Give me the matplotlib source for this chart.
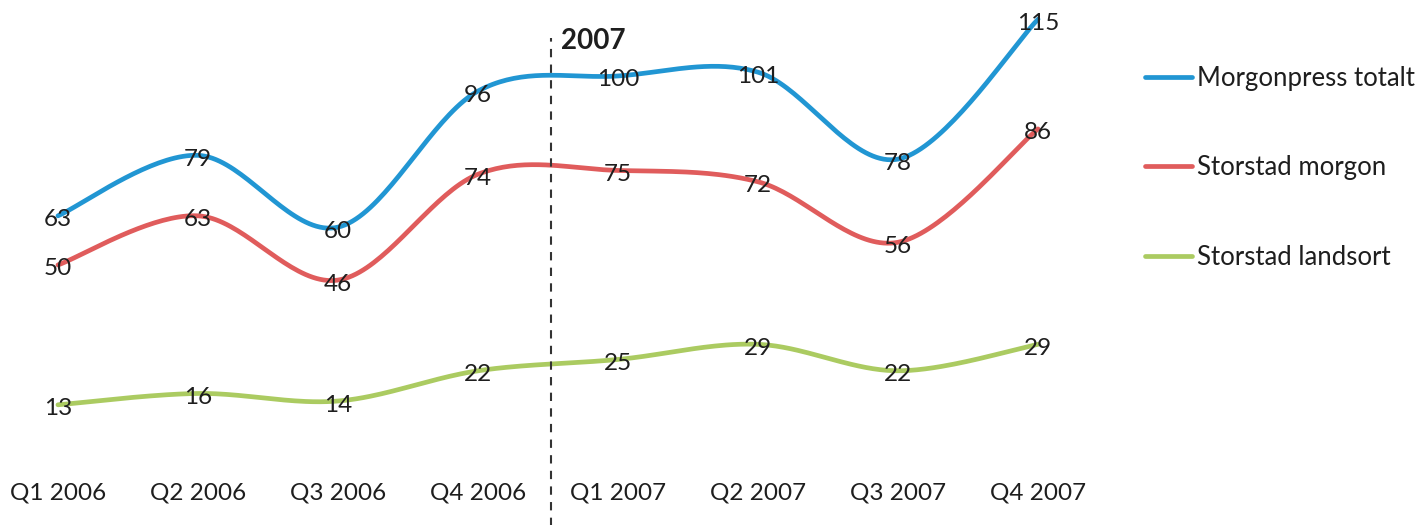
import numpy as np
import matplotlib
matplotlib.use("Agg")
from matplotlib import pyplot as plt

quarters = ["Q1 2006", "Q2 2006", "Q3 2006", "Q4 2006",
            "Q1 2007", "Q2 2007", "Q3 2007", "Q4 2007"]
series_names = ["Morgonpress totalt", "Storstad morgon", "Storstad landsort"]
morgonpress = [63, 79, 60, 96, 100, 101, 78, 115]
storstad_morgon = [50, 63, 46, 74, 75, 72, 56, 86]
storstad_landsort = [13, 16, 14, 22, 25, 29, 22, 29]
colors = ["#2196d3", "#e05c5c", "#abcb61"]

plt.rcParams['font.family'] = ['Lato', 'DejaVu Sans']
txt = "#1e1e1e"


def smooth(y, n=40):
    # catmull-rom through the points, bezier control at +-(p2-p0)/6
    x = np.arange(len(y), dtype=float)
    y = np.asarray(y, dtype=float)
    px = np.concatenate([[x[0]], x, [x[-1]]])
    py = np.concatenate([[y[0]], y, [y[-1]]])
    xs, ys = [], []
    t = np.linspace(0, 1, n)
    for i in range(len(y) - 1):
        p0 = np.array([px[i], py[i]])
        p1 = np.array([px[i + 1], py[i + 1]])
        p2 = np.array([px[i + 2], py[i + 2]])
        p3 = np.array([px[i + 3], py[i + 3]])
        c1 = p1 + (p2 - p0) / 6
        c2 = p2 - (p3 - p1) / 6
        b = ((1 - t) ** 3)[:, None] * p1 + (3 * (1 - t) ** 2 * t)[:, None] * c1 \
            + (3 * (1 - t) * t ** 2)[:, None] * c2 + (t ** 3)[:, None] * p2
        xs.append(b[:, 0])
        ys.append(b[:, 1])
    return np.concatenate(xs), np.concatenate(ys)


fig = plt.figure(figsize=(14.18, 5.25), dpi=100)
ax = fig.add_axes([0, 0, 1, 1])
ax.set_xlim(-0.414, 9.714)
ax.set_ylim(-18.8, 120.1)
ax.axis("off")

for vals, name, c in zip([morgonpress, storstad_morgon, storstad_landsort], series_names, colors):
    sx, sy = smooth(vals)
    ax.plot(sx, sy, color=c, lw=3.4, solid_capstyle="round", label=name)
    for i, v in enumerate(vals):
        ax.annotate(str(v), (i, v), xytext=(0, -4), textcoords="offset pixels",
                    ha="center", va="center", fontsize=17.5, color=txt)

for i, q in enumerate(quarters):
    ax.text(i, -10.3, q, ha="center", va="center", fontsize=17.5, color=txt)

ax.plot([3.52, 3.52], [-20, 110], color="#333333", lw=1.5, ls=(0, (4, 3.5)))
ax.text(3.593, 109.3, "2007", ha="left", va="center", fontsize=20, fontweight="bold", color=txt)

ax.legend(loc="upper left", bbox_to_anchor=(0.8075, 0.874), frameon=False,
          fontsize=18.5, handlelength=1.83, handletextpad=0.2, labelspacing=2.5,
          labelcolor=txt, borderaxespad=0, borderpad=0)

fig.savefig("out.png", dpi=100)
